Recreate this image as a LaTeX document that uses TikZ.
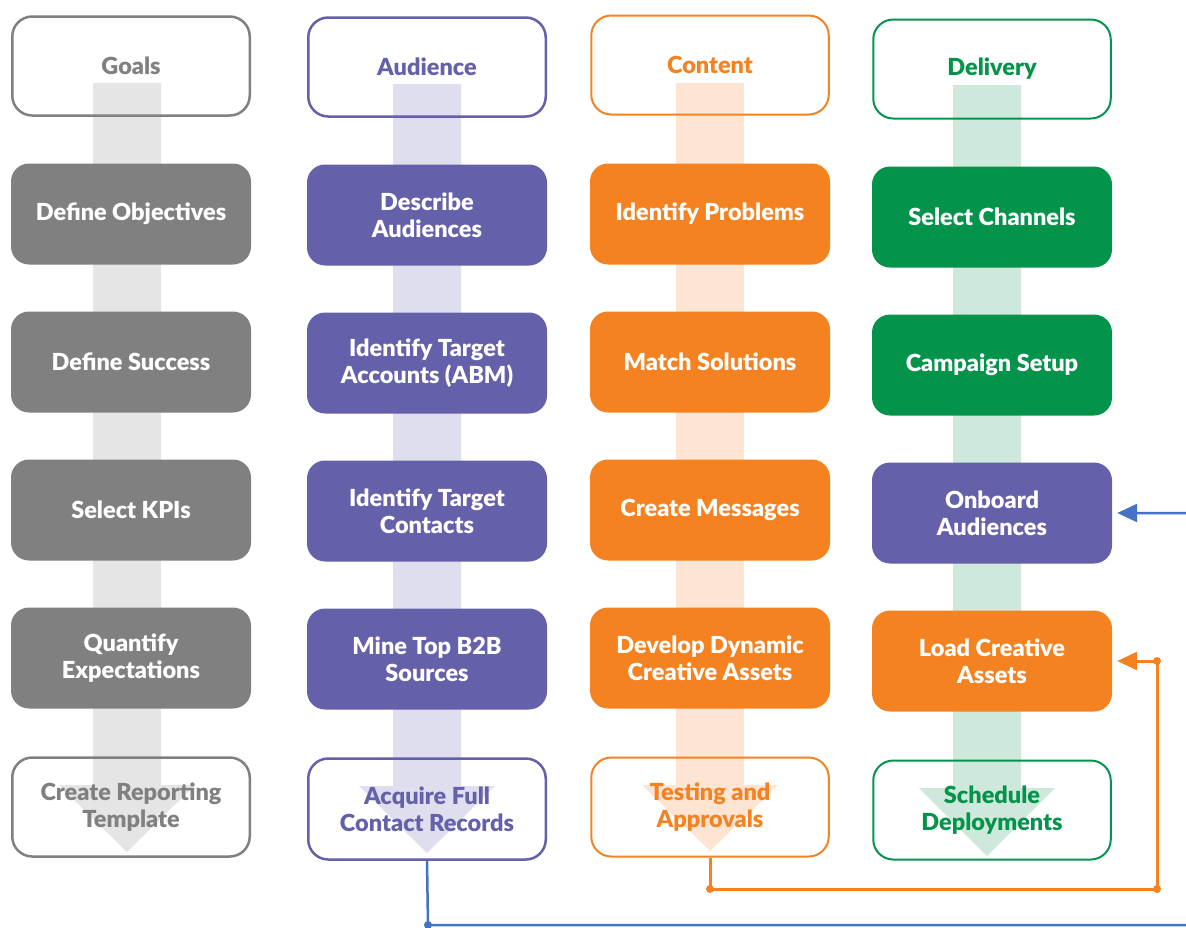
\documentclass[tikz,border=0pt]{standalone}
\usepackage{fontspec}
\setmainfont{Lato}[BoldFont={* Black}]
\usetikzlibrary{arrows.meta}

\definecolor{goalgray}{RGB}{128,128,128}
\definecolor{goalsoft}{RGB}{229,229,229}
\definecolor{audpurple}{RGB}{100,96,170}
\definecolor{audsoft}{RGB}{223,222,238}
\definecolor{conorange}{RGB}{245,130,32}
\definecolor{consoft}{RGB}{253,228,211}
\definecolor{delgreen}{RGB}{4,147,74}
\definecolor{delsoft}{RGB}{206,233,219}
\definecolor{linkblue}{RGB}{68,114,196}

\tikzset{
    stage/.style={rounded corners=18pt, minimum width=240pt, minimum height=101pt,
        align=center, text=white, font=\bfseries\fontsize{23.5}{27}\selectfont},
    endbox/.style={draw, line width=2.5pt, rounded corners=20pt, minimum width=237.5pt,
        minimum height=99pt, align=center, font=\bfseries\fontsize{23.5}{27}\selectfont},
    link/.style={line width=3pt, -{Triangle[length=20pt, width=18pt]}, shorten >=5pt},
    joint/.style={circle, fill, inner sep=0pt, minimum size=8pt}
}

\begin{document}
\begin{tikzpicture}[x=1pt, y=-1pt]
    \useasboundingbox (0, 0) rectangle (1186, 927);

    % wide arrows behind each column
    \fill[goalsoft] (93, 83) -- (161, 83) -- (161, 785) -- (195, 785) -- (127, 852)
        -- (59, 785) -- (93, 785) -- cycle;
    \fill[audsoft] (393, 84) -- (461, 84) -- (461, 786) -- (495, 786) -- (427, 853)
        -- (359, 786) -- (393, 786) -- cycle;
    \fill[consoft] (676, 83) -- (744, 83) -- (744, 785) -- (778, 785) -- (710, 851)
        -- (642, 785) -- (676, 785) -- cycle;
    \fill[delsoft] (953, 85) -- (1021, 85) -- (1021, 788) -- (1055, 788) -- (987, 856)
        -- (919, 788) -- (953, 788) -- cycle;

    % goals
    \node[endbox, draw=goalgray, text=goalgray] (goals) at (131, 66) {Goals};
    \node[stage, fill=goalgray] (objectives) at (131, 214) {Define Objectives};
    \node[stage, fill=goalgray] (success) at (131, 362) {Define Success};
    \node[stage, fill=goalgray] (kpis) at (131, 510) {Select KPIs};
    \node[stage, fill=goalgray] (expectations) at (131, 658) {Quantify\\Expectations};
    \node[endbox, draw=goalgray, text=goalgray] (reporting) at (131, 807) {Create Reporting\\Template};

    % audience
    \node[endbox, draw=audpurple, text=audpurple] (audience) at (427, 67) {Audience};
    \node[stage, fill=audpurple] (describe) at (427, 215) {Describe\\Audiences};
    \node[stage, fill=audpurple] (accounts) at (427, 363) {Identify Target\\Accounts (ABM)};
    \node[stage, fill=audpurple] (contacts) at (427, 511) {Identify Target\\Contacts};
    \node[stage, fill=audpurple] (mine) at (427, 659) {Mine Top B2B\\Sources};
    \node[endbox, draw=audpurple, text=audpurple, minimum height=101pt] (acquire) at (427, 809) {Acquire Full\\Contact Records};

    % content
    \node[endbox, draw=conorange, text=conorange, line width=2pt] (content) at (710, 65) {Content};
    \node[stage, fill=conorange] (problems) at (710, 214) {Identify Problems};
    \node[stage, fill=conorange] (solutions) at (710, 362) {Match Solutions};
    \node[stage, fill=conorange] (messages) at (710, 510) {Create Messages};
    \node[stage, fill=conorange] (dynamic) at (710, 658) {Develop Dynamic\\Creative Assets};
    \node[endbox, draw=conorange, text=conorange, line width=2pt] (testing) at (710, 807) {Testing and\\Approvals};

    % delivery
    \node[endbox, draw=delgreen, text=delgreen, line width=2pt] (delivery) at (992, 69) {Delivery};
    \node[stage, fill=delgreen] (channels) at (992, 217) {Select Channels};
    \node[stage, fill=delgreen] (setup) at (992, 365) {Campaign Setup};
    \node[stage, fill=audpurple] (onboard) at (992, 513) {Onboard\\Audiences};
    \node[stage, fill=conorange] (load) at (992, 661) {Load Creative\\Assets};
    \node[endbox, draw=delgreen, text=delgreen, line width=2pt] (schedule) at (992, 810) {Schedule\\Deployments};

    % feedback lines
    \coordinate (bluedown) at (428, 925);
    \coordinate (blueright) at (1200, 925);
    \coordinate (blueup) at (1200, 513);
    \draw[link, linkblue, line width=2.5pt] (acquire.south) -- (bluedown) -- (blueright)
        -- (blueup) -- (onboard.east);
    \node[joint, linkblue] at (bluedown) {};

    \coordinate (orangedown) at (710, 889);
    \coordinate (orangeright) at (1157, 889);
    \coordinate (orangeup) at (1157, 661);
    \draw[link, conorange] (testing.south) -- (orangedown) -- (orangeright)
        -- (orangeup) -- (load.east);
    \node[joint, conorange] at (orangedown) {};
    \node[joint, conorange] at (orangeright) {};
    \node[joint, conorange] at (orangeup) {};
\end{tikzpicture}
\end{document}
